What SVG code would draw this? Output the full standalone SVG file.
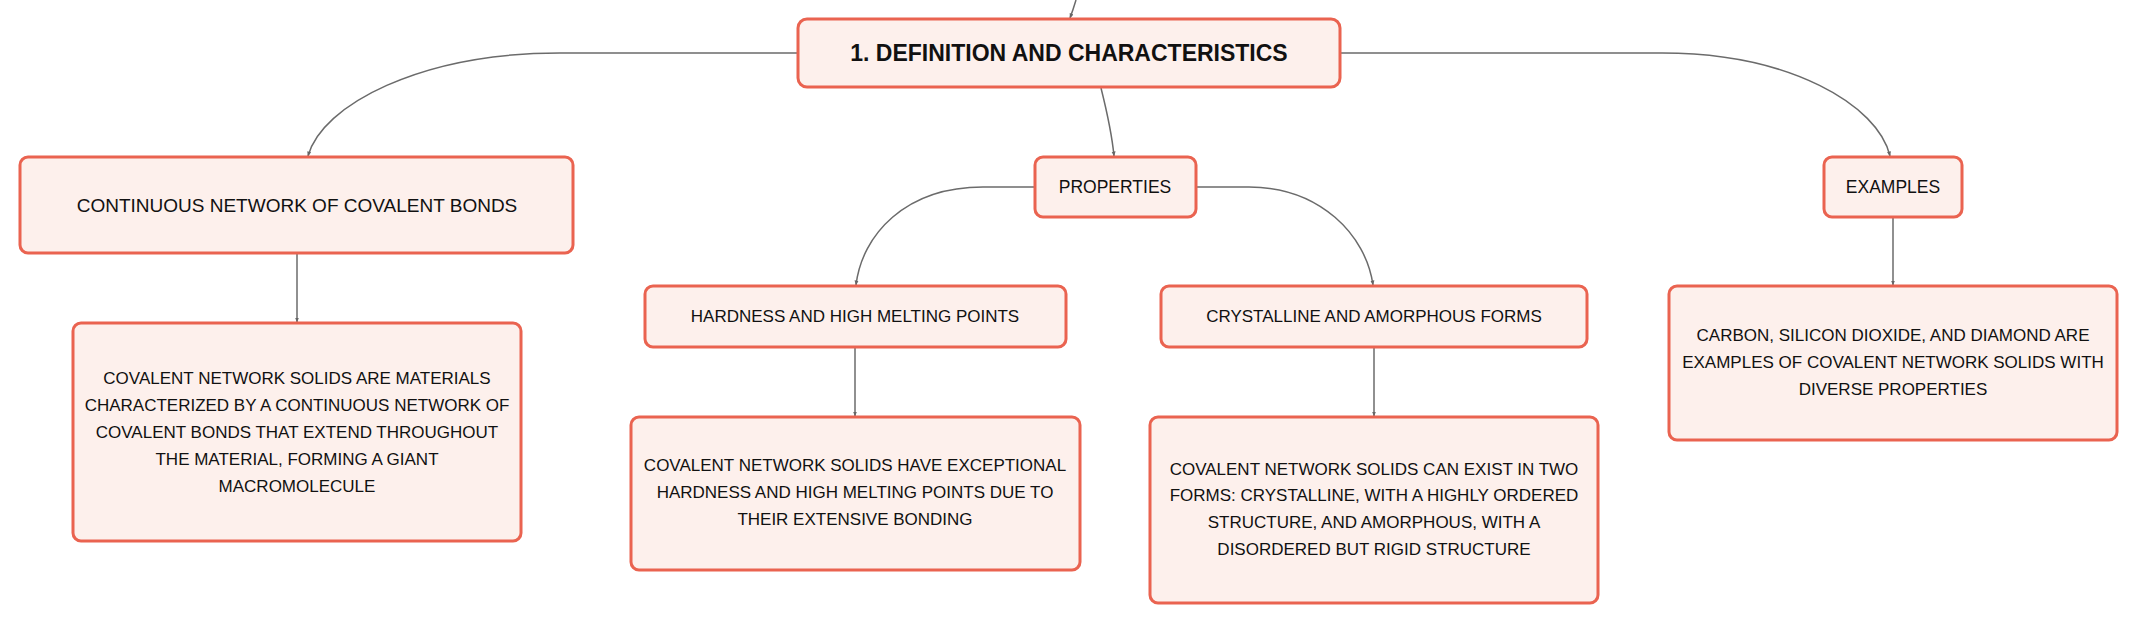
<svg xmlns="http://www.w3.org/2000/svg" width="2138" height="624" viewBox="0 0 2138 624">
<defs>
<marker id="arr" viewBox="0 0 10 10" refX="9" refY="5" markerWidth="5" markerHeight="5" orient="auto-start-reverse" markerUnits="userSpaceOnUse">
<path d="M0,1 L10,5 L0,9 z" fill="#666"/>
</marker>
<style>
.box{fill:#fdf0ec;stroke:#ea6350;stroke-width:3}
.con{fill:none;stroke:#6b6b6b;stroke-width:1.5;marker-end:url(#arr)}
text{font-family:"Liberation Sans",Arial,sans-serif;fill:#111;text-anchor:middle}
.t{font-size:17px}
.root{font-size:23px;font-weight:bold}
</style>
</defs>
<rect width="2138" height="624" fill="#ffffff"/>
<g id="connectors">
<path class="con" d="M1076,0 Q1073,10 1070,18"/>
<path class="con" d="M798,53 L560,53 C420,53 322,105 308,156"/>
<path class="con" d="M1101,88 C1107,112 1112,135 1114,156"/>
<path class="con" d="M1340,53 L1662,53 C1790,53 1878,105 1890,156"/>
<path class="con" d="M1035,187 L983,187 C905,187 862,235 856,285"/>
<path class="con" d="M1196,187 L1249,187 C1320,187 1366,235 1373,285"/>
<path class="con" d="M297,254 L297,322"/>
<path class="con" d="M855,348 L855,416"/>
<path class="con" d="M1374,348 L1374,416"/>
<path class="con" d="M1893,218 L1893,285"/>
</g>
<g id="root">
<rect class="box" x="798" y="19" width="542" height="68" rx="9"/>
<text class="root" x="1069" y="61">1. DEFINITION AND CHARACTERISTICS</text>
</g>
<g id="continuous">
<rect class="box" x="20" y="157" width="553" height="96" rx="8"/>
<text x="297" y="212" style="font-size:19px">CONTINUOUS NETWORK OF COVALENT BONDS</text>
</g>
<g id="continuous-desc">
<rect class="box" x="73" y="323" width="448" height="218" rx="8"/>
<text class="t" x="297" y="384">COVALENT NETWORK SOLIDS ARE MATERIALS</text>
<text class="t" x="297" y="411">CHARACTERIZED BY A CONTINUOUS NETWORK OF</text>
<text class="t" x="297" y="438">COVALENT BONDS THAT EXTEND THROUGHOUT</text>
<text class="t" x="297" y="465">THE MATERIAL, FORMING A GIANT</text>
<text class="t" x="297" y="492">MACROMOLECULE</text>
</g>
<g id="properties">
<rect class="box" x="1035" y="157" width="161" height="60" rx="8"/>
<text class="t" x="1115" y="193" style="font-size:17.5px">PROPERTIES</text>
</g>
<g id="examples">
<rect class="box" x="1824" y="157" width="138" height="60" rx="8"/>
<text class="t" x="1893" y="193" style="font-size:17.5px">EXAMPLES</text>
</g>
<g id="examples-desc">
<rect class="box" x="1669" y="286" width="448" height="154" rx="8"/>
<text class="t" x="1893" y="341">CARBON, SILICON DIOXIDE, AND DIAMOND ARE</text>
<text class="t" x="1893" y="368">EXAMPLES OF COVALENT NETWORK SOLIDS WITH</text>
<text class="t" x="1893" y="395">DIVERSE PROPERTIES</text>
</g>
<g id="hardness">
<rect class="box" x="645" y="286" width="421" height="61" rx="8"/>
<text class="t" x="855" y="322">HARDNESS AND HIGH MELTING POINTS</text>
</g>
<g id="hardness-desc">
<rect class="box" x="631" y="417" width="449" height="153" rx="8"/>
<text class="t" x="855" y="471">COVALENT NETWORK SOLIDS HAVE EXCEPTIONAL</text>
<text class="t" x="855" y="498">HARDNESS AND HIGH MELTING POINTS DUE TO</text>
<text class="t" x="855" y="525">THEIR EXTENSIVE BONDING</text>
</g>
<g id="crystalline">
<rect class="box" x="1161" y="286" width="426" height="61" rx="8"/>
<text class="t" x="1374" y="322">CRYSTALLINE AND AMORPHOUS FORMS</text>
</g>
<g id="crystalline-desc">
<rect class="box" x="1150" y="417" width="448" height="186" rx="8"/>
<text class="t" x="1374" y="475">COVALENT NETWORK SOLIDS CAN EXIST IN TWO</text>
<text class="t" x="1374" y="501">FORMS: CRYSTALLINE, WITH A HIGHLY ORDERED</text>
<text class="t" x="1374" y="528">STRUCTURE, AND AMORPHOUS, WITH A</text>
<text class="t" x="1374" y="555">DISORDERED BUT RIGID STRUCTURE</text>
</g>
</svg>
